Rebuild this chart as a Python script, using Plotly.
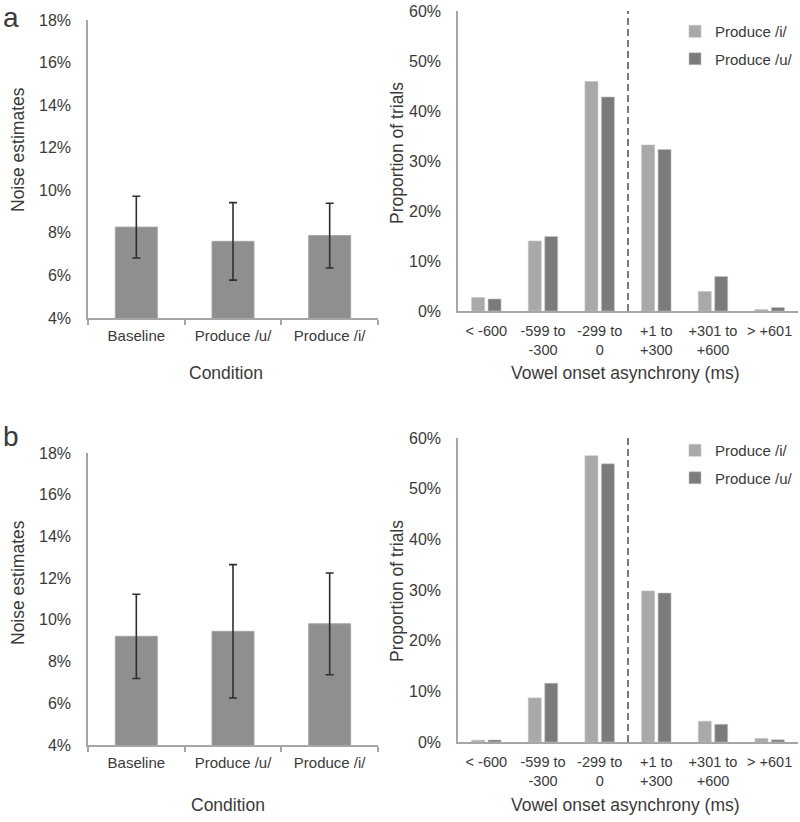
import plotly.graph_objects as go

# ---------------- data ----------------
conditions = ["Baseline", "Produce /u/", "Produce /i/"]
noise_a = [8.27, 7.60, 7.87]
noise_a_err = [1.45, 1.82, 1.52]
noise_b = [9.21, 9.45, 9.81]
noise_b_err = [2.02, 3.20, 2.44]

asynchrony_bins = ["< -600", "-599 to -300", "-299 to 0", "+1 to +300", "+301 to +600", "> +601"]
bin_labels = ["&lt; -600", "-599 to<br>-300", "-299 to<br>0", "+1 to<br>+300", "+301 to<br>+600", "&gt; +601"]
prop_a_i = [2.7, 14.0, 45.9, 33.2, 3.9, 0.3]
prop_a_u = [2.4, 14.9, 42.8, 32.3, 6.9, 0.7]
prop_b_i = [0.35, 8.7, 56.5, 29.8, 4.1, 0.7]
prop_b_u = [0.4, 11.6, 54.9, 29.4, 3.5, 0.45]

noise_ticks = [4, 6, 8, 10, 12, 14, 16, 18]
noise_tick_labels = ["4%", "6%", "8%", "10%", "12%", "14%", "16%", "18%"]
prop_ticks = [0, 10, 20, 30, 40, 50, 60]
prop_tick_labels = ["0%", "10%", "20%", "30%", "40%", "50%", "60%"]
series_names = ["Produce /i/", "Produce /u/"]

# ---------------- style ----------------
FONT = "Liberation Sans, Arial, sans-serif"
TXT = "#3a3a3a"
AXIS = "#a6a6a6"
BAR_MID = "#8f8f8f"
BAR_LIGHT = "#a9a9a9"
BAR_DARK = "#7b7b7b"
W, H = 800, 822


def px_x(p):
    return p / W


def px_y(p):
    return 1 - p / H


fig = go.Figure()

err_style = dict(type="data", color="#2e2e2e", thickness=1.6, width=4)

fig.add_trace(go.Bar(x=conditions, y=noise_a, width=[0.434] * 3,
                     error_y=dict(array=noise_a_err, **err_style),
                     marker=dict(color=BAR_MID, line=dict(color="#a3a3a3", width=1)),
                     xaxis="x", yaxis="y", showlegend=False))
fig.add_trace(go.Bar(x=conditions, y=noise_b, width=[0.434] * 3,
                     error_y=dict(array=noise_b_err, **err_style),
                     marker=dict(color=BAR_MID, line=dict(color="#a3a3a3", width=1)),
                     xaxis="x3", yaxis="y3", showlegend=False))

for name, vals, col, lg, xa, ya in [
    (series_names[0], prop_a_i, BAR_LIGHT, "legend", "x2", "y2"),
    (series_names[1], prop_a_u, BAR_DARK, "legend", "x2", "y2"),
    (series_names[0], prop_b_i, BAR_LIGHT, "legend2", "x4", "y4"),
    (series_names[1], prop_b_u, BAR_DARK, "legend2", "x4", "y4"),
]:
    fig.add_trace(go.Bar(x=asynchrony_bins, y=vals, name=name,
                         marker=dict(color=col, line=dict(color="#c4c4c4", width=0.6)),
                         xaxis=xa, yaxis=ya, legend=lg, legendgroup=lg + name))

common_x = dict(type="category", showline=True, linecolor=AXIS, linewidth=1.5,
                showgrid=False, zeroline=False, automargin=False)
common_y = dict(showline=True, linecolor=AXIS, linewidth=1.5, showgrid=False,
                zeroline=False, ticks="", automargin=False,
                ticklabelstandoff=12, ticklabeloverflow="allow",
                tickfont=dict(family=FONT, size=16, color=TXT))

left_font = dict(family=FONT, size=15, color=TXT)
right_font = dict(family=FONT, size=14.5, color=TXT)

left_dom = [px_x(88), px_x(378)]
right_dom = [px_x(458), px_x(798)]

fig.update_layout(
    width=W, height=H,
    margin=dict(l=0, r=0, t=0, b=0),
    paper_bgcolor="white", plot_bgcolor="white",
    font=dict(family=FONT, color=TXT),
    barmode="group", bargap=0.42, bargroupgap=0.21,
    xaxis=dict(domain=left_dom, anchor="y", ticks="outside", tickson="boundaries",
               ticklen=5, tickcolor=AXIS, tickwidth=1.5, ticklabelstandoff=3,
               tickfont=left_font, **common_x),
    yaxis=dict(domain=[px_y(318), px_y(20)], anchor="x", range=[4, 18],
               tickvals=noise_ticks, ticktext=noise_tick_labels, **common_y),
    xaxis3=dict(domain=left_dom, anchor="y3", ticks="outside", tickson="boundaries",
                ticklen=5, tickcolor=AXIS, tickwidth=1.5, ticklabelstandoff=3,
                tickfont=left_font, **common_x),
    yaxis3=dict(domain=[px_y(745), px_y(453)], anchor="x3", range=[4, 18],
                tickvals=noise_ticks, ticktext=noise_tick_labels, **common_y),
    xaxis2=dict(domain=right_dom, anchor="y2", ticks="", tickvals=asynchrony_bins,
                ticktext=bin_labels, ticklabelstandoff=6, tickfont=right_font, **common_x),
    yaxis2=dict(domain=[px_y(311), px_y(11)], anchor="x2", range=[0, 60],
                tickvals=prop_ticks, ticktext=prop_tick_labels, **common_y),
    xaxis4=dict(domain=right_dom, anchor="y4", ticks="", tickvals=asynchrony_bins,
                ticktext=bin_labels, ticklabelstandoff=6, tickfont=right_font, **common_x),
    yaxis4=dict(domain=[px_y(742), px_y(438)], anchor="x4", range=[0, 60],
                tickvals=prop_ticks, ticktext=prop_tick_labels, **common_y),
    legend=dict(x=px_x(675), y=px_y(15), xanchor="left", yanchor="top",
                bgcolor="rgba(0,0,0,0)", tracegroupgap=5,
                font=dict(family=FONT, size=15, color=TXT)),
    legend2=dict(x=px_x(675), y=px_y(434), xanchor="left", yanchor="top",
                 bgcolor="rgba(0,0,0,0)", tracegroupgap=5,
                 font=dict(family=FONT, size=15, color=TXT)),
)

# dashed divider at zero asynchrony (between "-299 to 0" and "+1 to +300")
for xr, yr in [("x2", "y2 domain"), ("x4", "y4 domain")]:
    fig.add_shape(type="line", xref=xr, yref=yr, x0=2.5, x1=2.5, y0=0, y1=1,
                  line=dict(color="#7a7a7a", width=2, dash="7px,4px"))

ann = []


def add_text(text, x, y, size, angle=0, yanchor="middle"):
    ann.append(dict(text=text, xref="paper", yref="paper", x=px_x(x), y=px_y(y),
                    xanchor="center", yanchor=yanchor, showarrow=False,
                    textangle=angle, font=dict(family=FONT, size=size, color=TXT)))


add_text("a", 11, 0, 28, yanchor="top")
add_text("b", 11, 437, 28)
add_text("Noise estimates", 18, 150, 17.5, -90)
add_text("Noise estimates", 18, 583, 17.5, -90)
add_text("Condition", 226, 373, 17.5)
add_text("Condition", 228, 805, 17.5)
add_text("Proportion of trials", 397, 153, 17.5, -90)
add_text("Proportion of trials", 397, 591, 17.5, -90)
add_text("Vowel onset asynchrony (ms)", 625, 373, 17.5)
add_text("Vowel onset asynchrony (ms)", 625, 805, 17.5)
fig.update_layout(annotations=ann)

# remove the browser's default 8px page margin so figure pixels match page pixels
fig.write_html("out.html", config={"displayModeBar": False},
               post_script="document.body.style.margin='0px';")
